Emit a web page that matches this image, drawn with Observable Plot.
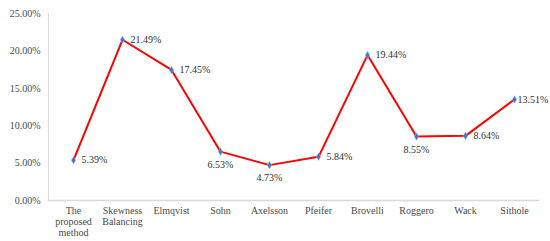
<!DOCTYPE html>
<html>
<head>
<meta charset="utf-8">
<script src="https://cdn.jsdelivr.net/npm/d3@7"></script>
<script src="https://cdn.jsdelivr.net/npm/@observablehq/plot@0.6"></script>
<style>
  html, body { margin: 0; padding: 0; background: #fff; }
  #chart { width: 550px; height: 241px; }
  #chart svg, #chart svg text, #chart svg g { font-family: "Liberation Serif", Tinos, "Times New Roman", "DejaVu Serif", serif !important; }
</style>
</head>
<body>
<div id="chart"></div>
<script>
const categories = ["The proposed method", "Skewness Balancing", "Elmqvist", "Sohn", "Axelsson", "Pfeifer", "Brovelli", "Roggero", "Wack", "Sithole"];
const tickLabels = ["The\nproposed\nmethod", "Skewness\nBalancing", "Elmqvist", "Sohn", "Axelsson", "Pfeifer", "Brovelli", "Roggero", "Wack", "Sithole"];
const values = [0.0539, 0.2149, 0.1745, 0.0653, 0.0473, 0.0584, 0.1944, 0.0855, 0.0864, 0.1351];
const yTicks = [0, 0.05, 0.10, 0.15, 0.20, 0.25];

const data = categories.map((c, i) => ({category: c, value: values[i]}));
const belowSet = new Set(["Sohn", "Axelsson", "Roggero"]);
const closeSet = new Set(["Sithole"]);
const labelFmt = d3.format(".2%");
const font = "Liberation Serif, Tinos, Times New Roman, DejaVu Serif, serif";

const chart = Plot.plot({
  width: 550,
  height: 241,
  marginLeft: 48,
  marginRight: 12,
  marginTop: 13,
  marginBottom: 41,
  style: {fontFamily: font, fontSize: "10px", color: "#404040", background: "#fff"},
  x: {type: "point", domain: categories, padding: 0.5},
  y: {domain: [0, 0.25]},
  marks: [
    Plot.frame({anchor: "left", stroke: "#d9d9d9"}),
    Plot.frame({anchor: "bottom", stroke: "#d9d9d9", strokeWidth: 1.5}),
    Plot.axisY({ticks: yTicks, tickFormat: d3.format(".2%"), tickSize: 0, tickPadding: 8, fill: "#4a4a4a", label: null, fontFamily: font}),
    Plot.axisX({tickSize: 0, tickPadding: 6, tickFormat: d => tickLabels[categories.indexOf(d)], fill: "#4a4a4a", label: null, lineHeight: 1.1, fontFamily: font}),
    Plot.line(data, {x: "category", y: "value", stroke: "#ff0000", strokeWidth: 2}),
    Plot.dot(data, {x: "category", y: "value", symbol: "diamond", r: 2.3, fill: "#4472c4", stroke: "#9dbbe6", strokeWidth: 0.5}),
    Plot.text(data.filter(d => !belowSet.has(d.category) && !closeSet.has(d.category)), {x: "category", y: "value", text: d => labelFmt(d.value), textAnchor: "start", dx: 8, fill: "#303030", fontFamily: font}),
    Plot.text(data.filter(d => closeSet.has(d.category)), {x: "category", y: "value", text: d => labelFmt(d.value), textAnchor: "start", dx: 3, fill: "#303030", fontFamily: font}),
    Plot.text(data.filter(d => belowSet.has(d.category)), {x: "category", y: "value", text: d => labelFmt(d.value), textAnchor: "middle", dy: 13, fill: "#303030", fontFamily: font})
  ]
});
document.getElementById("chart").appendChild(chart);
</script>
</body>
</html>
